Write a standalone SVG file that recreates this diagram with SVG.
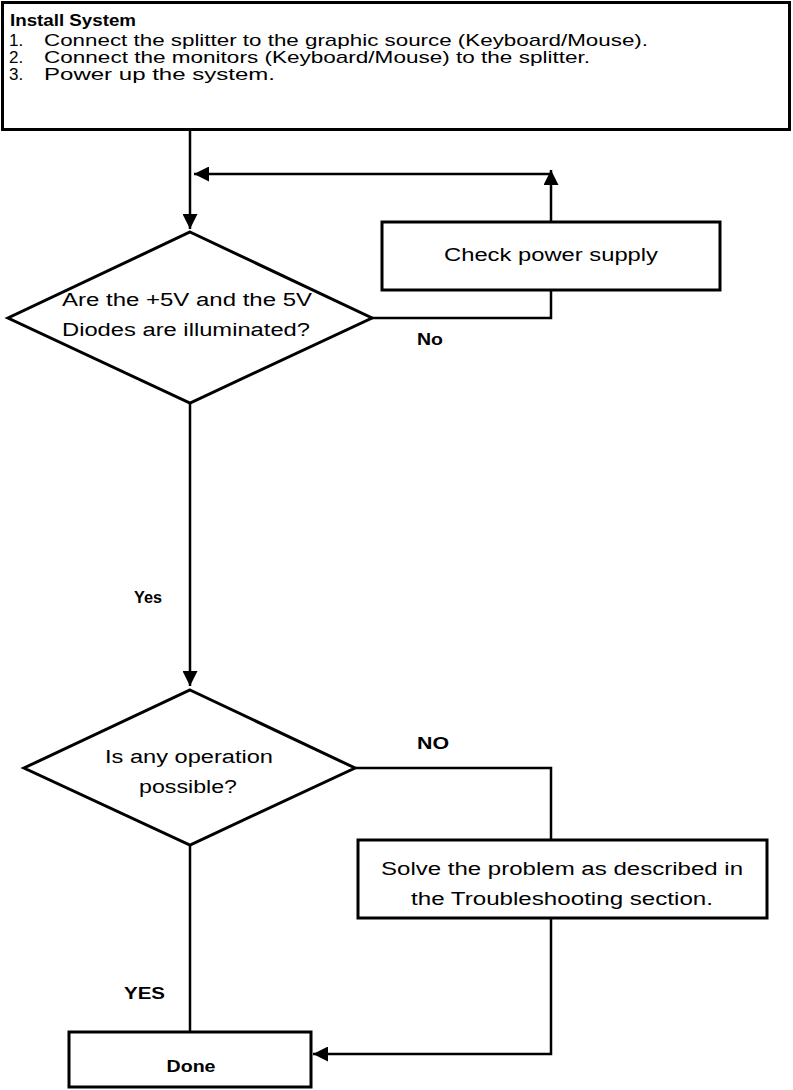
<svg xmlns="http://www.w3.org/2000/svg" width="793" height="1090" viewBox="0 0 793 1090">
<style>
.box{fill:#fff;stroke:#000;stroke-width:3}
.ln{fill:none;stroke:#000;stroke-width:2.5}
.t{font-family:"Liberation Sans",Arial,sans-serif;font-size:18px;fill:#000}
.s{font-size:17px}
.b{font-family:"Liberation Sans",Arial,sans-serif;font-size:17px;font-weight:bold;fill:#000}
.c{text-anchor:middle}
</style>
<defs>
<marker id="ah" viewBox="0 0 10 10" refX="10" refY="5" markerWidth="6" markerHeight="6" markerUnits="strokeWidth" orient="auto">
<path d="M0,0 L10,5 L0,10 z" fill="#000"/>
</marker>
</defs>
<rect width="793" height="1090" fill="#fff"/>
<g id="connectors">
<line class="ln" x1="190" y1="130" x2="190" y2="229" marker-end="url(#ah)"/>
<line class="ln" x1="551" y1="222" x2="551" y2="170" marker-end="url(#ah)"/>
<line class="ln" x1="551" y1="174" x2="194" y2="174" marker-end="url(#ah)"/>
<polyline class="ln" points="372,318 551,318 551,290"/>
<line class="ln" x1="190" y1="403" x2="190" y2="686" marker-end="url(#ah)"/>
<polyline class="ln" points="355,768 551,768 551,840"/>
<line class="ln" x1="190" y1="845" x2="190" y2="1032"/>
<polyline class="ln" points="551,918 551,1054 313,1054" marker-end="url(#ah)"/>
<text class="b" x="417" y="345" textLength="26" lengthAdjust="spacingAndGlyphs">No</text>
<text class="b" x="134" y="603" textLength="28" lengthAdjust="spacingAndGlyphs">Yes</text>
<text class="b" x="417" y="749" textLength="32" lengthAdjust="spacingAndGlyphs">NO</text>
<text class="b" x="124" y="999" textLength="41" lengthAdjust="spacingAndGlyphs">YES</text>
</g>
<g id="install">
<rect class="box" x="2.5" y="2.5" width="787" height="127"/>
<text class="t s" x="10" y="26" style="font-weight:bold" textLength="126" lengthAdjust="spacingAndGlyphs">Install System</text>
<text class="t s" x="9" y="46">1.</text>
<text class="t s" x="44" y="46" textLength="604" lengthAdjust="spacingAndGlyphs">Connect the splitter to the graphic source (Keyboard/Mouse).</text>
<text class="t s" x="9" y="63">2.</text>
<text class="t s" x="44" y="63" textLength="546" lengthAdjust="spacingAndGlyphs">Connect the monitors (Keyboard/Mouse) to the splitter.</text>
<text class="t s" x="9" y="80">3.</text>
<text class="t s" x="44" y="80" textLength="231" lengthAdjust="spacingAndGlyphs">Power up the system.</text>
</g>
<g id="check">
<rect class="box" x="382" y="222" width="338" height="68"/>
<text class="t c" x="551" y="261" textLength="214" lengthAdjust="spacingAndGlyphs">Check power supply</text>
</g>
<g id="diodes">
<polygon class="box" points="190,232 372,318 190,403 8,318"/>
<text class="t c" x="187" y="306" textLength="250" lengthAdjust="spacingAndGlyphs">Are the +5V and the 5V</text>
<text class="t c" x="186" y="336" textLength="248" lengthAdjust="spacingAndGlyphs">Diodes are illuminated?</text>
</g>
<g id="operation">
<polygon class="box" points="190,690 355,768 190,845 24,768"/>
<text class="t c" x="189" y="763" textLength="168" lengthAdjust="spacingAndGlyphs">Is any operation</text>
<text class="t c" x="188" y="793" textLength="98" lengthAdjust="spacingAndGlyphs">possible?</text>
</g>
<g id="solve">
<rect class="box" x="358" y="840" width="409" height="78"/>
<text class="t c" x="562" y="875" textLength="362" lengthAdjust="spacingAndGlyphs">Solve the problem as described in</text>
<text class="t c" x="562" y="905" textLength="302" lengthAdjust="spacingAndGlyphs">the Troubleshooting section.</text>
</g>
<g id="done">
<rect class="box" x="69" y="1032" width="242" height="55"/>
<text class="b c" x="191" y="1072" textLength="49" lengthAdjust="spacingAndGlyphs">Done</text>
</g>
</svg>
